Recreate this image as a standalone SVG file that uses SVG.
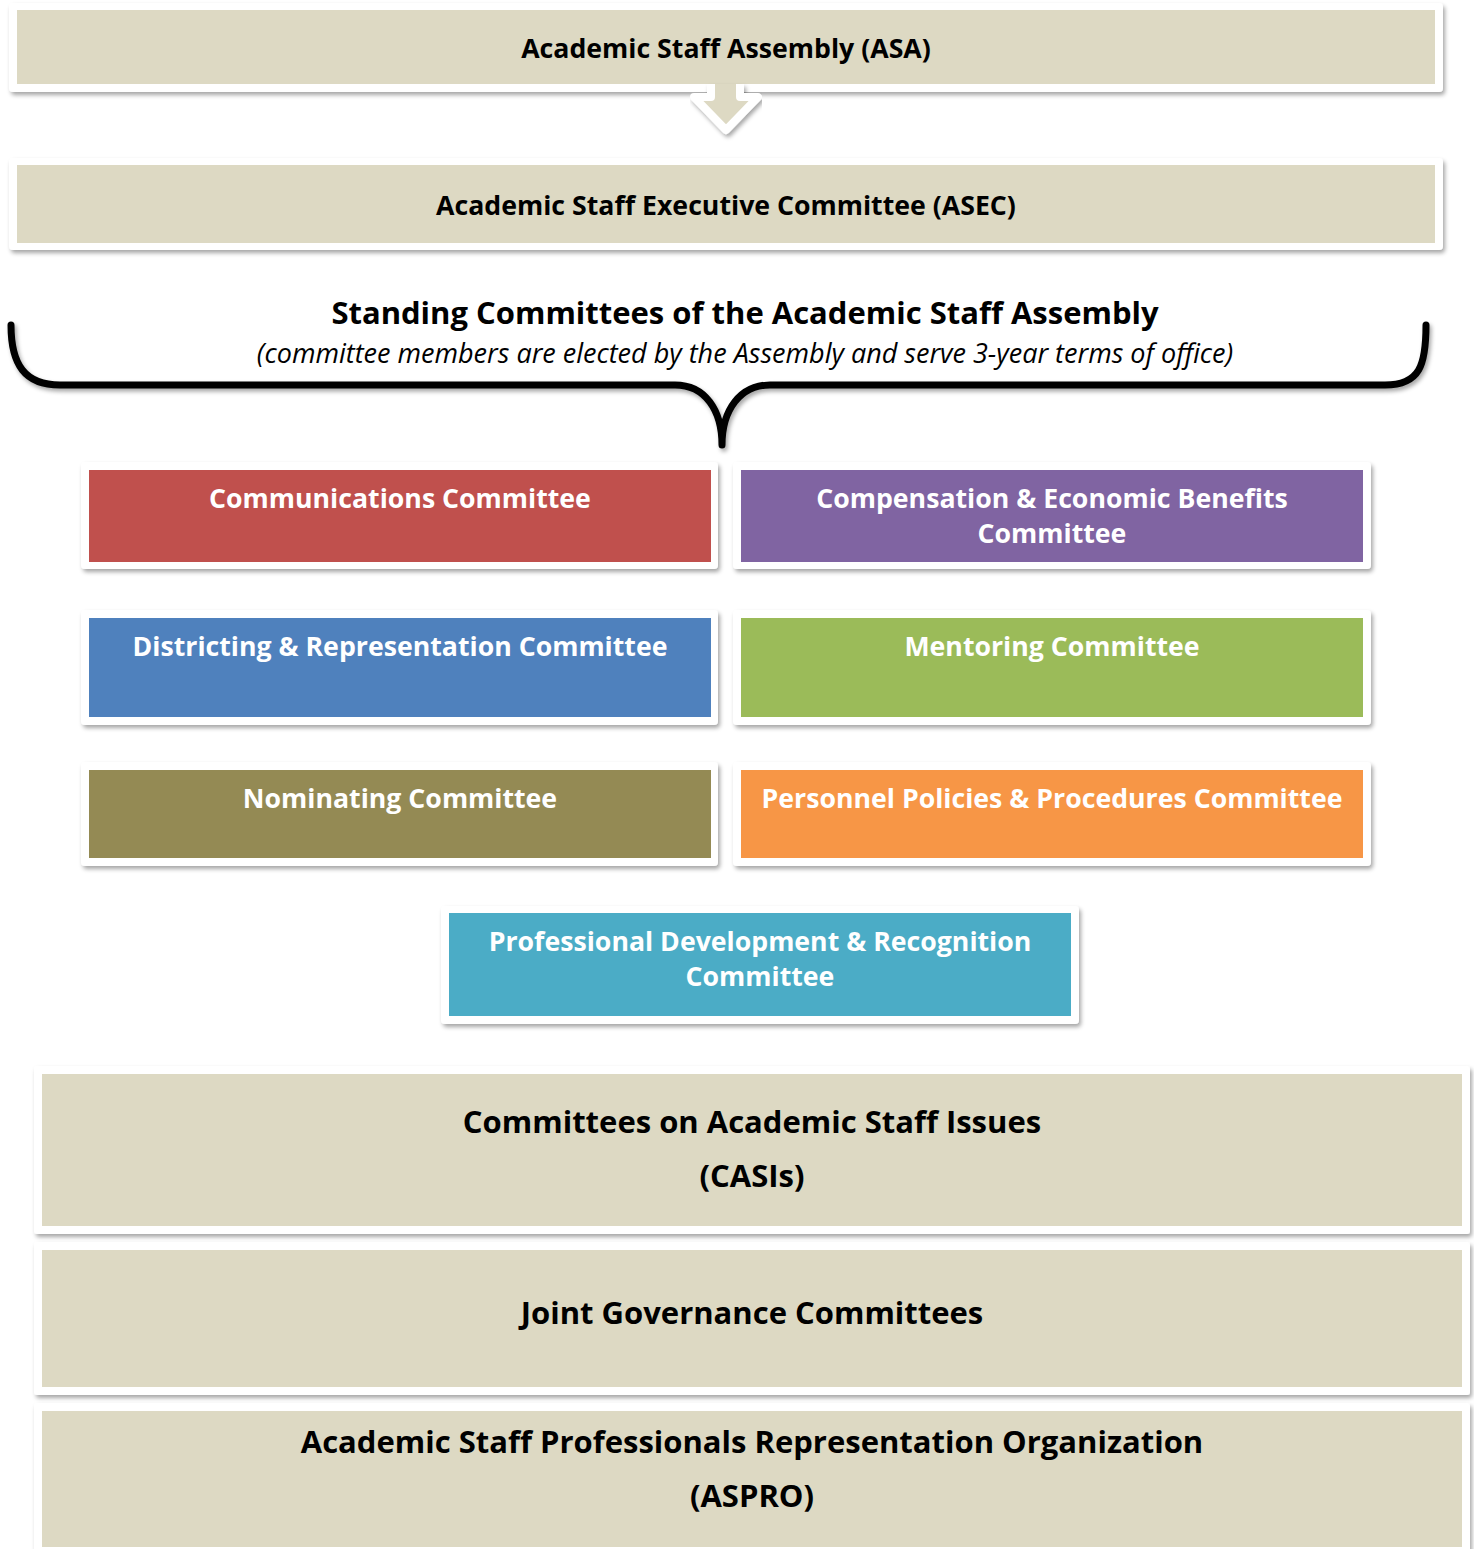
<svg xmlns="http://www.w3.org/2000/svg" width="1474" height="1549" viewBox="0 0 1474 1549">
<defs>
<filter id="sh" x="-5%" y="-20%" width="110%" height="150%">
<feDropShadow dx="2" dy="3" stdDeviation="2" flood-color="#000" flood-opacity="0.35"/>
</filter>
<style>
.frame{fill:#fff;filter:url(#sh)}
.tan{fill:#DDD9C3}
.t{font-family:"Open Sans",Lato,sans-serif;font-weight:bold;text-anchor:middle}
.s{font-size:26.7px}
.l{font-size:31px}
.dk{fill:#000}
.wh{fill:#fff}
</style>
</defs>
<rect width="1474" height="1549" fill="#fff"/>
<g id="asa">
<rect class="frame" x="9" y="3" width="1434" height="89" rx="4"/>
<rect class="tan" x="17" y="10" width="1418" height="74"/>
</g>
<g id="connectors">
<path d="M711,84 L711,97 L694,97 L726,130 L758,97 L740,97 L740,84" fill="#DDD9C3" stroke="#fff" stroke-width="8" stroke-linejoin="round" filter="url(#sh)"/>
<path d="M11,325 C11,365 25,385 60,385 L675,385 C705,385 722,410 722,445 C722,410 740,385 770,385 L1385,385 C1420,385 1426,365 1426,325" fill="none" stroke="#000" stroke-width="7" stroke-linecap="round" stroke-linejoin="round" filter="url(#sh)"/>
</g>
<text class="t s dk" x="726" y="58">Academic Staff Assembly (ASA)</text>
<g id="asec">
<rect class="frame" x="9" y="158" width="1434" height="92" rx="4"/>
<rect class="tan" x="17" y="165" width="1418" height="78"/>
<text class="t s dk" x="726" y="215">Academic Staff Executive Committee (ASEC)</text>
</g>
<g id="standing">
<text class="t dk" x="745" y="324" font-size="31">Standing Committees of the Academic Staff Assembly</text>
<text x="745" y="363" font-size="27" font-style="italic" font-family="'Open Sans',Lato,sans-serif" text-anchor="middle" fill="#000">(committee members are elected by the Assembly and serve 3-year terms of office)</text>
</g>
<g id="communications">
<rect class="frame" x="81" y="462" width="637" height="107" rx="4"/>
<rect x="89" y="470" width="622" height="92" fill="#C0504D"/>
<text class="t s wh" x="400" y="508">Communications Committee</text>
</g>
<g id="compensation">
<rect class="frame" x="733" y="462" width="638" height="107" rx="4"/>
<rect x="741" y="470" width="622" height="92" fill="#8064A2"/>
<text class="t s wh" x="1052" y="508">Compensation &amp; Economic Benefits</text>
<text class="t s wh" x="1052" y="543">Committee</text>
</g>
<g id="districting">
<rect class="frame" x="81" y="610" width="637" height="115" rx="4"/>
<rect x="89" y="618" width="622" height="99" fill="#4F81BD"/>
<text class="t s wh" x="400" y="656">Districting &amp; Representation Committee</text>
</g>
<g id="mentoring">
<rect class="frame" x="733" y="610" width="638" height="115" rx="4"/>
<rect x="741" y="618" width="622" height="99" fill="#9BBB59"/>
<text class="t s wh" x="1052" y="656">Mentoring Committee</text>
</g>
<g id="nominating">
<rect class="frame" x="81" y="762" width="637" height="104" rx="4"/>
<rect x="89" y="770" width="622" height="88" fill="#948A54"/>
<text class="t s wh" x="400" y="808">Nominating Committee</text>
</g>
<g id="personnel">
<rect class="frame" x="733" y="762" width="638" height="104" rx="4"/>
<rect x="741" y="770" width="622" height="88" fill="#F79646"/>
<text class="t s wh" x="1052" y="808">Personnel Policies &amp; Procedures Committee</text>
</g>
<g id="professional">
<rect class="frame" x="441" y="906" width="638" height="118" rx="4"/>
<rect x="449" y="913" width="622" height="103" fill="#4BACC6"/>
<text class="t s wh" x="760" y="951">Professional Development &amp; Recognition</text>
<text class="t s wh" x="760" y="986">Committee</text>
</g>
<g id="casis">
<rect class="frame" x="34" y="1066" width="1436" height="168" rx="3"/>
<rect class="tan" x="42" y="1074" width="1420" height="152"/>
<text class="t l dk" x="752" y="1133">Committees on Academic Staff Issues</text>
<text class="t l dk" x="752" y="1187">(CASIs)</text>
</g>
<g id="joint">
<rect class="frame" x="34" y="1242" width="1436" height="153" rx="3"/>
<rect class="tan" x="42" y="1250" width="1420" height="137"/>
<text class="t l dk" x="752" y="1324">Joint Governance Committees</text>
</g>
<g id="aspro">
<rect class="frame" x="34" y="1403" width="1436" height="160" rx="3"/>
<rect class="tan" x="42" y="1411" width="1420" height="136"/>
<text class="t l dk" x="752" y="1453">Academic Staff Professionals Representation Organization</text>
<text class="t l dk" x="752" y="1507">(ASPRO)</text>
</g>
</svg>
